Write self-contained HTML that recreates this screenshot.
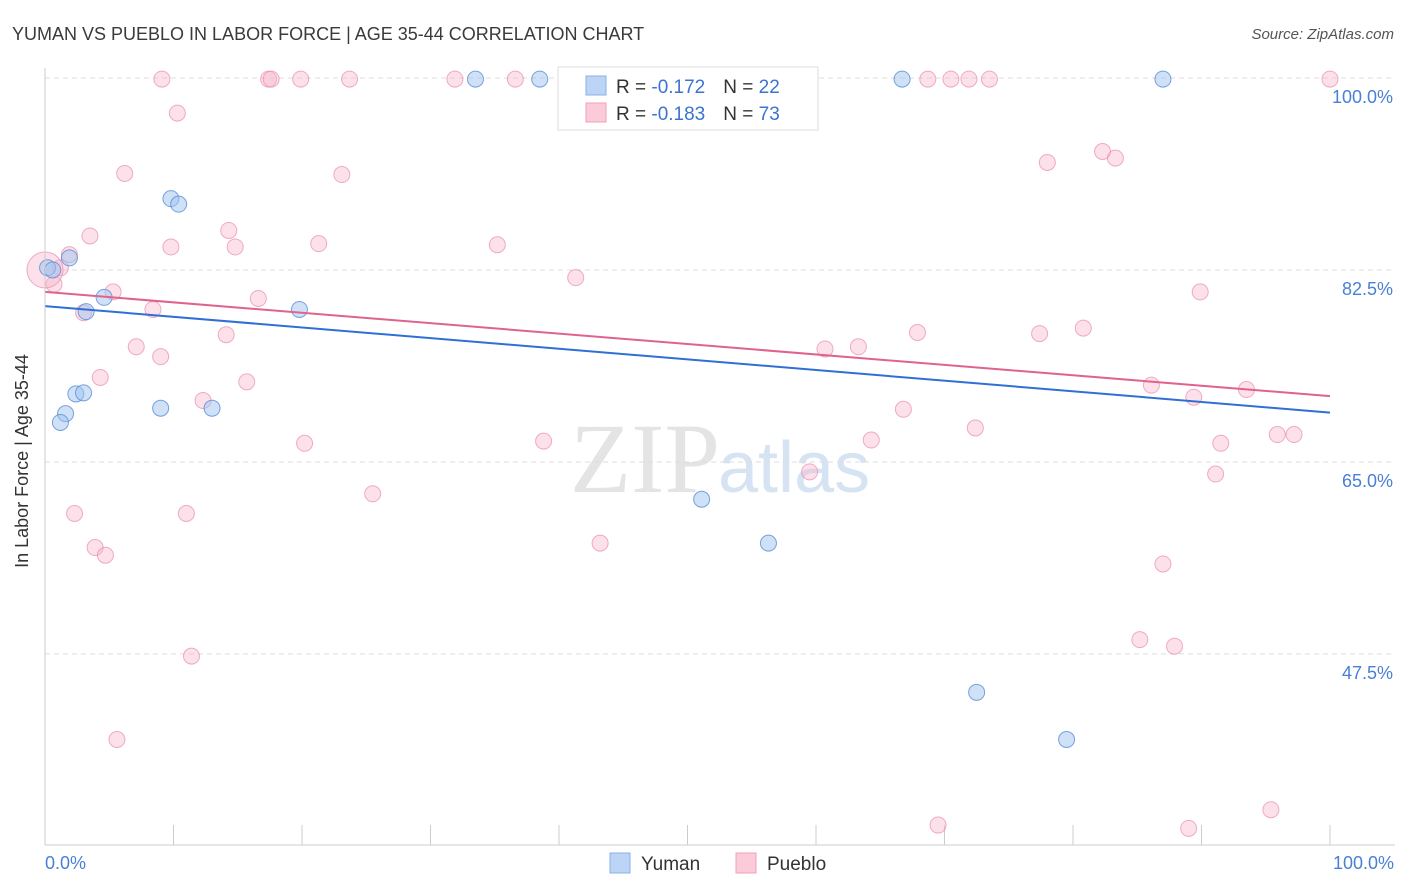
<!DOCTYPE html>
<html><head><meta charset="utf-8"><style>
body{margin:0;background:#fff;font-family:"Liberation Sans",sans-serif;}
</style></head><body>
<svg id="c" width="1406" height="892" xmlns="http://www.w3.org/2000/svg" style="display:block">
<text x="12" y="40" font-size="18" fill="#3a3a3a">YUMAN VS PUEBLO IN LABOR FORCE | AGE 35-44 CORRELATION CHART</text>
<text x="1394" y="39" font-size="15" fill="#555" font-style="italic" text-anchor="end">Source: ZipAtlas.com</text>
<text x="720" y="492" font-size="100" fill="#e4e4e4" text-anchor="end" font-family="Liberation Serif,serif">ZIP</text>
<text x="718" y="492" font-size="72" fill="#d6e3f3">atlas</text>
<g id="grid"></g><g id="pts"></g><g id="lines"></g>
<line x1="45" y1="68" x2="45" y2="845" stroke="#ccc"/>
<line x1="45" y1="845" x2="1395" y2="845" stroke="#ccc"/>
<text x="24" y="457" font-size="18" fill="#333" text-anchor="middle" transform="rotate(-90 28 457)">In Labor Force | Age 35-44</text>
<text x="45" y="869" font-size="18" fill="#4a7fd6">0.0%</text>
<text x="1394" y="869" font-size="18" fill="#4a7fd6" text-anchor="end">100.0%</text>
<g>
<rect x="558" y="67" width="260" height="63" fill="#fff" stroke="#ddd"/>
<rect x="586" y="76" width="20" height="19" fill="#bcd4f5" stroke="#8ab0e8"/>
<rect x="586" y="103" width="20" height="19" fill="#fbcbd9" stroke="#f0a0bb"/>
<text x="616" y="93" font-size="19" fill="#333">R = <tspan fill="#3b74d0">-0.172</tspan><tspan dx="18">N = </tspan><tspan fill="#3b74d0">22</tspan></text>
<text x="616" y="120" font-size="19" fill="#333">R = <tspan fill="#3b74d0">-0.183</tspan><tspan dx="18">N = </tspan><tspan fill="#3b74d0">73</tspan></text>
</g>
<g>
<rect x="610" y="853" width="20" height="20" fill="#bcd4f5" stroke="#8ab0e8"/>
<text x="641" y="870" font-size="19" fill="#333">Yuman</text>
<rect x="736" y="853" width="20" height="20" fill="#fbcbd9" stroke="#f0a0bb"/>
<text x="767" y="870" font-size="19" fill="#333">Pueblo</text>
</g>
</svg>
<script>
const yTicks=[100,82.5,65,47.5];
const yTickLabels=["100.0%","82.5%","65.0%","47.5%"];
const xTicks=[10,20,30,40,50,60,70,80,90,100];
const yumanX=[33.5,38.5,66.7,87.0,9.8,10.4,1.9,0.2,0.6,4.6,3.2,19.8,2.4,3.0,1.6,1.2,9.0,13.0,51.1,56.3,72.5,79.5];
const yumanY=[99.9,99.9,99.9,99.9,89.0,88.5,83.6,82.7,82.5,80.0,78.7,78.9,71.2,71.3,69.4,68.6,69.9,69.9,61.6,57.6,44.0,39.7];
const puebloX=[9.1,17.4,17.6,19.9,23.7,31.9,36.6,45.7,68.7,70.5,71.9,73.5,100,10.3,6.2,23.1,78.0,82.3,83.3,3.5,14.3,9.8,14.8,21.3,35.2,1.9,1.2,0.7,5.3,41.3,16.6,8.4,3.0,89.9,14.1,7.1,9.0,67.9,60.7,63.3,77.4,80.8,4.3,15.7,86.1,89.4,93.5,12.3,66.8,72.4,20.2,38.8,64.3,91.5,95.9,97.2,59.5,91.1,25.5,2.3,11.0,3.9,4.7,43.2,87.0,85.2,87.9,11.4,5.6,69.5,89.0,95.4,0];
const puebloY=[99.9,99.9,99.9,99.9,99.9,99.9,99.9,99.9,99.9,99.9,99.9,99.9,99.9,96.8,91.3,91.2,92.3,93.3,92.7,85.6,86.1,84.6,84.6,84.9,84.8,83.9,82.7,81.2,80.5,81.8,79.9,78.9,78.6,80.5,76.6,75.5,74.6,76.8,75.3,75.5,76.7,77.2,72.7,72.3,72.0,70.9,71.6,70.6,69.8,68.1,66.7,66.9,67.0,66.7,67.5,67.5,64.1,63.9,62.1,60.3,60.3,57.2,56.5,57.6,55.7,48.8,48.2,47.3,39.7,31.9,31.6,33.3,82.5];
const yumanTrend=[79.2,69.5];
const puebloTrend=[80.5,71.0];
const NS="http://www.w3.org/2000/svg";
const xs=v=>45+v*12.85, ys=v=>78+(100-v)*10.97;
function mk(t,a,p){const e=document.createElementNS(NS,t);for(const k in a)e.setAttribute(k,a[k]);p.appendChild(e);return e;}
const grid=document.getElementById('grid');
yTicks.forEach((t,i)=>{
 const l=mk('line',{x1:45,x2:1395,y1:ys(t),y2:ys(t),stroke:'#ddd','stroke-dasharray':'5,4'},grid);
 
 
 const tx=mk('text',{x:1393,y:ys(t)+25,'font-size':18,fill:'#4a7fd6','text-anchor':'end'},grid);
 tx.textContent=yTickLabels[i];
 
 
});
xTicks.forEach(t=>{
 const l=mk('line',{x1:xs(t),x2:xs(t),y1:825,y2:845,stroke:'#ccc'},grid);
 
 
});
const pts=document.getElementById('pts');
puebloX.forEach((x,i)=>{
 const r=i===puebloX.length-1?18:8;
 const c=mk('circle',{cx:xs(x),cy:ys(puebloY[i]),r:r,fill:'rgba(248,180,202,0.4)',stroke:'rgba(232,140,172,0.7)','stroke-width':1},pts);
 
 
});
yumanX.forEach((x,i)=>{
 const c=mk('circle',{cx:xs(x),cy:ys(yumanY[i]),r:8,fill:'rgba(160,195,240,0.5)',stroke:'rgba(90,140,215,0.8)','stroke-width':1},pts);
 
 
});
const lines=document.getElementById('lines');
const lb=mk('line',{x1:xs(0),y1:ys(yumanTrend[0]),x2:xs(100),y2:ys(yumanTrend[1]),stroke:'#2f6fd6','stroke-width':2},lines);


const lp=mk('line',{x1:xs(0),y1:ys(puebloTrend[0]),x2:xs(100),y2:ys(puebloTrend[1]),stroke:'#e0628f','stroke-width':2},lines);


</script>
</body></html>
